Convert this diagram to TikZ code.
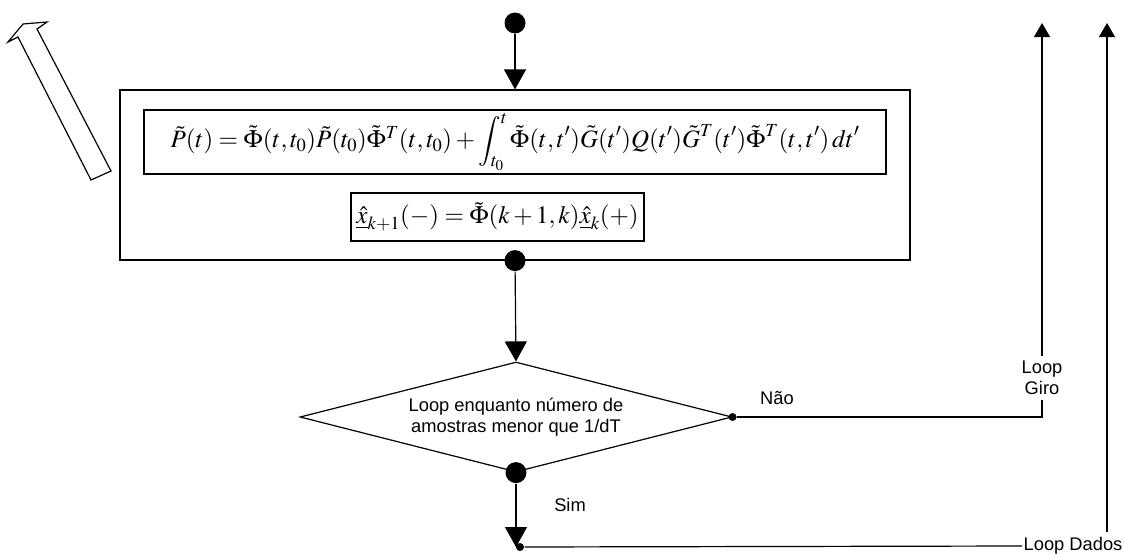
\documentclass[tikz,border=0pt]{standalone}
\usepackage{mathptmx}
\usepackage[no-math]{fontspec}
\setmainfont{Liberation Sans}
\usetikzlibrary{shapes.geometric,arrows.meta}

\begin{document}
\begin{tikzpicture}[x=1pt,y=-1pt,line width=1.2pt,
    bigdot/.style={circle,fill,inner sep=0pt,minimum size=21pt},
    smalldot/.style={circle,fill,inner sep=0pt,minimum size=8pt},
    eqbox/.style={draw,inner sep=0pt,font=\fontsize{25}{29}\selectfont},
    flow/.style={-{Triangle[width=22pt,length=20pt]}},
    loopline/.style={-{Triangle[width=16pt,length=14pt]}},
    lbl/.style={font=\fontsize{18.3}{21.5}\selectfont,align=center}]
  \useasboundingbox (0,0) rectangle (1124,557);

  % bloco de propagacao
  \node[draw,minimum width=790pt,minimum height=170pt] (outer) at (515,175) {};
  \node[eqbox,minimum width=742pt,minimum height=64pt] (eqP) at (515,142)
    {$\tilde{P}(t)=\tilde{\Phi}(t,t_0)\tilde{P}(t_0)\tilde{\Phi}^T(t,t_0)
      +\displaystyle\int_{t_0}^{t}\tilde{\Phi}(t,t')\tilde{G}(t')Q(t')\tilde{G}^T(t')
      \tilde{\Phi}^T(t,t')\,dt'$};
  \node[eqbox,minimum width=293pt,minimum height=48pt] (eqx) at (497.5,217)
    {$\underline{\hat{x}}_{k+1}(-)=\tilde{\Phi}(k+1,k)\underline{\hat{x}}_k(+)$};

  \draw (91,180) -- (18,37) -- (8,42) -- (23,24) -- (47,22) -- (37,29) -- (111,171) -- cycle;

  \node[bigdot] (start) at (515,23) {};
  \node[bigdot] (outdot) at (outer.south) {};
  \node[draw,diamond,aspect=3.93,minimum width=432pt,minimum height=110pt,inner sep=0pt,
        align=center,font=\fontsize{18.3}{20.5}\selectfont] (test) at (516,417)
    {Loop enquanto número de\\amostras menor que 1/dT};
  \node[smalldot] (nao) at (test.east) {};
  \node[bigdot] (sim) at (test.south) {};
  \node[smalldot] (join) at (520,547) {};

  \node[lbl] (naolbl) at (777,398) {Não};
  \node[lbl] (simlbl) at (570,505) {Sim};
  \node[lbl,inner sep=4pt] (giro) at (1042,378) {Loop\\Giro};
  \node[lbl,anchor=east,inner xsep=1pt,inner ysep=5pt] (dados) at (1124,546) {Loop Dados};
  \coordinate (dtop) at (1107,23);

  \draw[flow] (start) -- (outer.north);
  \draw[flow] (outdot) -- (test.north);
  \draw[flow] (sim) -- (sim |- join);
  \draw (nao) -- (nao -| giro) -- (giro.south);
  \draw[loopline] (giro.north) -- (giro |- start);
  \draw (join) -- (dados.west);
  \draw[loopline] (dados.north -| dtop) -- (dtop);
\end{tikzpicture}
\end{document}
